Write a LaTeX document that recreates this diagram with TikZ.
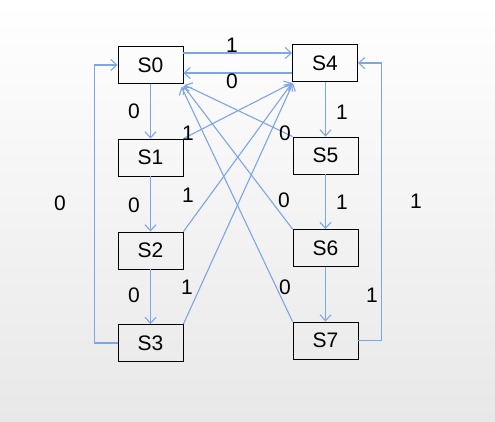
\documentclass[tikz,border=0pt]{standalone}
\usepackage{fontspec}
\setmainfont{Liberation Sans}
\usetikzlibrary{arrows.meta}
\definecolor{edgeblue}{RGB}{125,165,232}
\begin{document}
\begin{tikzpicture}[x=1pt,y=-1pt,
  state/.style={draw=black,line width=0.9pt,minimum width=65pt,minimum height=37pt,inner sep=0pt,font=\fontsize{21}{23}\selectfont},
  edge/.style={draw=edgeblue,line width=1.1pt,-{Straight Barb[length=6pt,width=11pt,line width=1.1pt]}},
  lbl/.style={font=\fontsize{21}{23}\selectfont,inner sep=0pt}]
\shade[top color=white,bottom color=black!9] (0,0) rectangle (495,421);
\useasboundingbox (0,0) rectangle (495,421);
\node[state] (S0) at (150.5,65) {S0};
\node[state] (S1) at (150.5,157.5) {S1};
\node[state] (S2) at (150.5,250.5) {S2};
\node[state] (S3) at (150.5,343) {S3};
\node[state] (S4) at (325,63) {S4};
\node[state] (S5) at (325.5,155.5) {S5};
\node[state] (S6) at (325.5,248) {S6};
\node[state] (S7) at (325.5,340.5) {S7};
% horizontal
\draw[edge] ([yshift=12pt]S0.east) -- ([yshift=10pt]S4.west);
\draw[edge] ([yshift=-10pt]S4.west) -- ([yshift=-8pt]S0.east);
% verticals
\draw[edge] (S0) -- (S1);
\draw[edge] (S1) -- (S2);
\draw[edge] (S2) -- (S3);
\draw[edge] (S4.south -| S5) -- (S5);
\draw[edge] (S5) -- (S6);
\draw[edge] (S6) -- (S7);
% loops
\draw[edge] (S3.west) -- ++(-23,0) |- (S0.west);
\draw[edge] (S7.east) -- ++(23,0) |- (S4.east);
% diagonals
\draw[edge] (S1.north east) -- ([yshift=-1pt]S4.south west);
\draw[edge] (S2.north east) -- ([yshift=-1pt]S4.south west);
\draw[edge] (S3.north east) -- ([xshift=1pt,yshift=-1pt]S4.south west);
\draw[edge] (S5.north west) -- ([xshift=1pt,yshift=-1pt]S0.south east);
\draw[edge] (S6.north west) -- ([yshift=-2pt]S0.south east);
\draw[edge] (S7.north west) -- ([xshift=-2pt,yshift=-3pt]S0.south east);
% labels
\node[lbl] (l1) at (232,45) {1};
\node[lbl] (l2) at (232,81) {0};
\node[lbl] (l3) at (134,111) {0};
\node[lbl] (l4) at (134,205) {0};
\node[lbl] (l5) at (134,295) {0};
\node[lbl] (l6) at (342,112) {1};
\node[lbl] (l7) at (342,202) {1};
\node[lbl] (l8) at (372,295) {1};
\node[lbl] (l9) at (188,133) {1};
\node[lbl] (l10) at (188,195) {1};
\node[lbl] (l11) at (187,287) {1};
\node[lbl] (l12) at (285,133) {0};
\node[lbl] (l13) at (284,200) {0};
\node[lbl] (l14) at (285,287) {0};
\node[lbl] (l15) at (60,203) {0};
\node[lbl] (l16) at (416,201) {1};
\end{tikzpicture}
\end{document}
